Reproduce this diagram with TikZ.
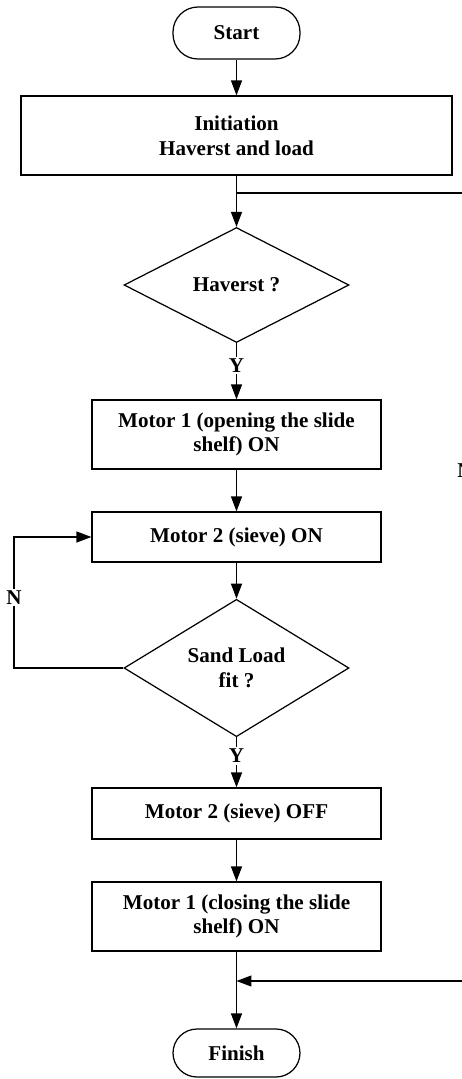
\documentclass[tikz,border=0pt]{standalone}
\usepackage{fontspec}
\setmainfont{Liberation Serif}
\usetikzlibrary{arrows.meta, shapes.geometric, positioning}

\begin{document}
\begin{tikzpicture}[x=0.02cm, y=-0.02cm,
  every node/.style={font=\bfseries\fontsize{12}{14}\selectfont, align=center},
  term/.style={draw, line width=0.7pt, rounded corners=0.5cm, minimum width=2.54cm, minimum height=1.04cm},
  proc/.style={draw, line width=0.7pt, minimum width=5.78cm, minimum height=1.38cm},
  decision/.style={draw, line width=0.7pt, diamond, minimum width=4.5cm, minimum height=2.3cm, inner sep=0pt},
  line/.style={draw, line width=0.7pt},
  arr/.style={line, -{Triangle[length=0.3cm, width=0.22cm]}},
  lbl/.style={fill=white, inner sep=1pt}]
\useasboundingbox (0,0) rectangle (462,1079);
\clip (0,0) rectangle (462,1079);

% main column
\node[term] (start) at (236.5,33) {Start};
\node[proc, minimum width=8.62cm, minimum height=1.58cm] (init) at (236.5,135.5) {Initiation\\Haverst and load};
\node[decision] (harv) at (236.5,285) {Haverst ?};
\node[proc] (m1on) at (236.5,434.5) {Motor 1 (opening the slide\\shelf) ON};
\node[proc, minimum height=1.0cm] (m2on) at (236.5,537) {Motor 2 (sieve) ON};
\node[decision, minimum height=2.2cm] (fit) at (236.5,668) {Sand Load\\fit ?};
\node[proc, minimum height=1.02cm] (m2off) at (236.5,813.5) {Motor 2 (sieve) OFF};
\node[proc] (m1off) at (236.5,916.5) {Motor 1 (closing the slide\\shelf) ON};
\node[term, minimum height=0.96cm, rounded corners=0.48cm] (finish) at (236.5,1053) {Finish};

\draw[arr] (start) -- (init);
\draw[arr] (init) -- (harv);
\draw[arr] (harv) -- node[lbl, pos=0.4] {Y} (m1on);
\draw[arr] (m1on) -- (m2on);
\draw[arr] (m2on) -- (fit);
\draw[arr] (fit) -- node[lbl, pos=0.37] {Y} (m2off);
\draw[arr] (m2off) -- (m1off);
\draw[arr] (m1off) -- (finish);

% sieve loop on the left
\coordinate (nbend) at (14,668);
\draw[arr] (fit.west) -- (nbend) |- node[lbl, pos=0.27] {N} (m2on.west);

% bypass on the right
\coordinate (split) at (236.5,193);
\coordinate (rtop) at (465,193);
\coordinate (rbot) at (465,981);
\coordinate (join) at (236.5,981);
\draw[line] (split) -- (rtop) -- node[lbl, pos=0.352] {N} (rbot);
\draw[arr] (rbot) -- (join);
\end{tikzpicture}
\end{document}
